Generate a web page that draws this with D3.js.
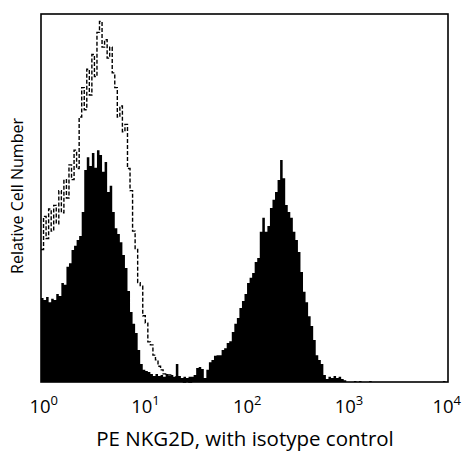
<!DOCTYPE html>
<html>
<head>
<meta charset="utf-8">
<script src="https://cdn.jsdelivr.net/npm/d3@7"></script>
<style>
  body { margin: 0; background: #fff; }
  svg text { font-family: "Open Sans", "Noto Sans", sans-serif; fill: #000; }
</style>
</head>
<body>
<svg id="chart" width="464" height="453"></svg>
<script>
// histogram bins: 0.025 decade wide, starting at 10^0
const binWidth = 0.025;

// PE NKG2D stained (filled black)
const nkg2d = [
  22.8, 22.3, 23.1, 21.7, 22.6, 22.3, 23.9, 23.4, 26.9, 26.4,
  31.3, 32.3, 35.9, 37.0, 38.6, 39.7, 46.2, 57.6, 61.1, 58.7,
  62.2, 58.2, 63.0, 61.7, 57.1, 59.8, 51.6, 53.3, 46.2, 41.8,
  40.2, 38.0, 34.5, 31.0, 24.7, 19.0, 15.8, 13.3, 8.7, 4.9,
  3.3, 3.0, 2.7, 2.2, 1.6, 2.2, 1.6, 1.9, 1.4, 2.2,
  1.6, 1.9, 1.4, 4.9, 1.6, 1.1, 1.4, 1.1, 1.4, 1.4,
  1.9, 3.8, 4.1, 3.5, 1.1, 3.3, 5.4, 6.0, 7.1, 7.3,
  7.3, 8.7, 9.2, 10.6, 11.1, 13.6, 15.8, 17.4, 20.1, 22.0,
  23.9, 26.9, 28.3, 29.6, 32.6, 33.7, 40.8, 44.6, 40.8, 42.4,
  47.3, 49.5, 51.6, 54.9, 60.3, 55.4, 48.1, 46.2, 44.6, 40.8,
  38.6, 35.3, 29.9, 24.5, 21.7, 17.9, 15.2, 11.4, 7.3, 6.0,
  4.9, 1.9, 0.8, 1.4, 1.1, 1.6, 1.1, 1.4, 0.8, 0.5,
  0, 0, 0, 0.3, 0, 0.3, 0, 0, 0, 0.3,
  0, 0, 0, 0, 0, 0, 0, 0, 0, 0,
  0, 0, 0, 0, 0, 0, 0, 0, 0, 0,
  0, 0, 0, 0, 0, 0, 0, 0, 0.3, 0
];

// isotype control (dashed)
const isotype = [
  36, 45, 39, 47, 41, 48, 43, 52, 46, 55,
  50, 59, 55, 63, 58, 72, 80, 74, 85, 78,
  89, 83, 95, 98, 91, 93, 88, 91, 84, 80,
  72, 75, 68, 70, 58, 52, 41, 36, 27, 26,
  18, 16, 10.9, 10.1, 7.3, 6.0, 4.3, 3.3, 2.2, 1.9,
  1.9, 1.1, 1.1, 1.4, 0.8, 0.5, 0, 0, 0, 0
];

const decades = [0, 1, 2, 3, 4];
const xTitle = "PE NKG2D, with isotype control";
const yTitle = "Relative Cell Number";

const svg = d3.select("#chart");
const plotL = 41, plotR = 448, plotT = 14, plotB = 382;

const x = d3.scaleLinear().domain([0, 4]).range([plotL, plotR]);
const y = d3.scaleLinear().domain([0, 100]).range([plotB, plotT]);

// turn counts into step points (bin start in log units), close at the last edge
function steps(arr) {
  const pts = arr.map((v, i) => ({ lo: i * binWidth, v: v }));
  pts.push({ lo: arr.length * binWidth, v: arr[arr.length - 1] });
  return pts;
}

const area = d3.area()
  .x(d => x(d.lo))
  .y0(y(0))
  .y1(d => y(d.v))
  .curve(d3.curveStepAfter);

const line = d3.line()
  .x(d => x(d.lo))
  .y(d => y(d.v))
  .curve(d3.curveStepAfter);

svg.append("path")
  .datum(steps(nkg2d))
  .attr("d", area)
  .attr("fill", "#000");

svg.append("path")
  .datum(steps(isotype))
  .attr("d", line)
  .attr("fill", "none")
  .attr("stroke", "#000")
  .attr("stroke-width", 1.4)
  .attr("stroke-dasharray", "4,2");

// frame
svg.append("rect")
  .attr("x", plotL).attr("y", plotT)
  .attr("width", plotR - plotL).attr("height", plotB - plotT)
  .attr("fill", "none")
  .attr("stroke", "#000")
  .attr("stroke-width", 1.6);

// tick labels 10^n
const ticks = svg.append("g");
decades.forEach(d => {
  const t = ticks.append("text")
    .attr("y", 413)
    .attr("font-size", 18.5);
  t.append("tspan").text("10");
  t.append("tspan").attr("dy", -8).attr("font-size", 13).text(d);
  const w10 = t.select("tspan").node().getComputedTextLength();
  const full = t.node().getComputedTextLength();
  let tx = x(d) - 1 - w10 / 2;
  if (tx + full > 461) tx = 461 - full;
  t.attr("x", tx);
});

svg.append("text")
  .attr("x", 245).attr("y", 446)
  .attr("text-anchor", "middle")
  .attr("font-size", 20.5)
  .text(xTitle);

svg.append("text")
  .attr("transform", "translate(23,196) rotate(-90)")
  .attr("text-anchor", "middle")
  .attr("font-size", 16)
  .text(yTitle);
</script>
</body>
</html>
